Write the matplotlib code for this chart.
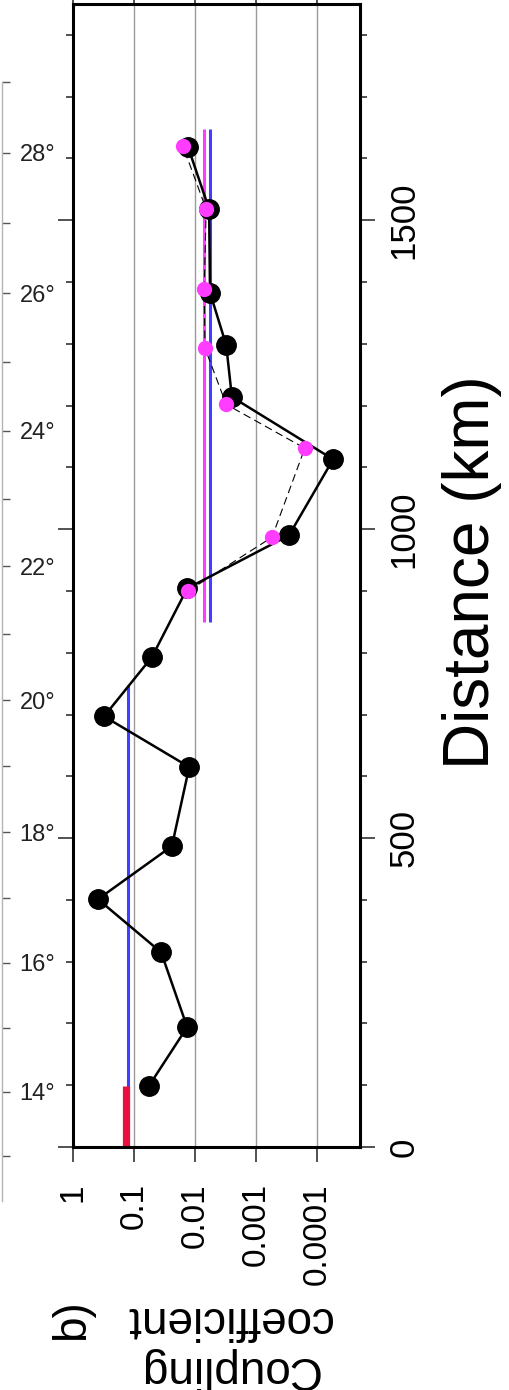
import numpy as np
import matplotlib as mpl
mpl.use('Agg')
import matplotlib.pyplot as plt
from matplotlib.ticker import FixedLocator, MultipleLocator, NullLocator, NullFormatter

plt.rcParams['font.family'] = ['Liberation Sans', 'DejaVu Sans']

# coupling coefficient along the profile (black = model 1, magenta = model 2)
dist_black = [99, 194, 315, 401, 487, 615, 697, 793, 904, 990, 1113, 1214, 1298, 1383, 1518, 1618]
coup_black = [0.057, 0.0135, 0.036, 0.39, 0.024, 0.0125, 0.31, 0.051, 0.0135,
              2.9e-4, 5.5e-5, 0.0025, 0.0031, 0.0057, 0.0059, 0.013]
dist_mag = [900, 987, 1131, 1202, 1293, 1388, 1518, 1620]
coup_mag = [0.013, 5.5e-4, 1.6e-4, 0.0031, 0.0069, 0.0071, 0.0066, 0.0158]

# segment averages: value, start km, end km
red_avg = (0.138, 0, 98)
blue_avg_south = (0.126, 52, 748)
mag_avg_north = (0.0071, 849, 1648)
blue_avg_north = (0.0057, 849, 1648)

coup_ticks = [1, 0.1, 0.01, 0.001, 0.0001]
coup_labels = ['1', '0.1', '0.01', '0.001', '0.0001']
dist_ticks = [0, 500, 1000, 1500]
lat_major = [14, 16, 18, 20, 22, 24, 26, 28]
lat_minor = [13, 15, 17, 19, 21, 23, 25, 27, 29]

W, H = 509, 1390
fig = plt.figure(figsize=(W / 100, H / 100), dpi=100)

# ---- main panel
ax = fig.add_axes([73 / W, (H - 1147) / H, (360 - 73) / W, (1147 - 4) / H])
ax.set_xscale('log')
ax.set_xlim(1, 10 ** -4.7)
ax.set_ylim(0, 1850)
ax.set_axisbelow(True)
ax.xaxis.set_major_locator(FixedLocator(coup_ticks))
ax.xaxis.set_minor_locator(NullLocator())
ax.set_xticks(coup_ticks, coup_labels, rotation=90, fontsize=24)
ax.xaxis.set_minor_formatter(NullFormatter())
ax.grid(axis='x', which='major', color='#9a9a9a', lw=1.0)

ax.set_yticks(dist_ticks, [str(d) for d in dist_ticks], rotation=90, va='center', fontsize=25)
ax.yaxis.set_minor_locator(MultipleLocator(100))
ax.tick_params(axis='y', which='both', left=True, right=True, labelleft=False,
               labelright=True, direction='out', width=1.1, color='#222222')
ax.tick_params(axis='y', which='major', length=11, pad=9)
ax.tick_params(axis='y', which='minor', length=5)
ax.tick_params(axis='x', which='major', top=True, bottom=True, direction='out',
               length=11, width=1.1, pad=15, color='#222222')
for s in ax.spines.values():
    s.set_linewidth(2.2)

# average lines
for val, d0, d1, col, lw in [(blue_avg_south[0], blue_avg_south[1], blue_avg_south[2], '#3f3fff', 2.2),
                              (red_avg[0], red_avg[1], red_avg[2], '#ea1140', 5.2),
                              (mag_avg_north[0], mag_avg_north[1], mag_avg_north[2], '#ff3cff', 2.2),
                              (blue_avg_north[0], blue_avg_north[1], blue_avg_north[2], '#3f3fff', 2.2)]:
    ax.plot([val, val], [d0, d1], color=col, lw=lw, solid_capstyle='butt', zorder=2)

ax.plot(coup_black, dist_black, color='black', lw=1.8, marker='o', ms=14,
        mfc='black', mec='black', zorder=3)
ax.plot(coup_mag, dist_mag, color='black', lw=0.8, ls=(0, (7, 4)), zorder=4)
ax.plot(coup_mag, dist_mag, ls='none', marker='o', ms=11, mfc='#ff3cff',
        mec='none', zorder=5)

# ---- edge of the neighbouring map panel (Mercator latitudes)
def merc(lat):
    lat = np.asarray(lat, dtype=float)
    return np.log(np.tan(np.pi / 4 + np.radians(lat) / 2))


def merc_inv(m):
    m = np.asarray(m, dtype=float)
    return np.degrees(2 * np.arctan(np.exp(m))) - 90


px_per_unit = (1092 - 153) / (merc(28) - merc(14))
lat_top = merc_inv(merc(28) + (153 - 4) / px_per_unit)
lat_bot = merc_inv(merc(14) - (H - 1092) / px_per_unit)

axl = fig.add_axes([-0.3, 0, 0.3 + 1.5 / W, (H - 4) / H])
axl.set_yscale('function', functions=(merc, merc_inv))
axl.set_ylim(lat_bot, lat_top)
axl.patch.set_visible(False)
for k in ['left', 'top', 'bottom']:
    axl.spines[k].set_visible(False)
axl.spines['right'].set_color('#b5b5b5')
axl.spines['right'].set_linewidth(1.0)
axl.spines['right'].set_bounds(12.3, 29)
axl.set_xticks([])
axl.yaxis.tick_right()
axl.yaxis.set_major_locator(FixedLocator(lat_major))
axl.yaxis.set_minor_locator(FixedLocator(lat_minor))
axl.set_yticks(lat_major, ['%d\u00b0' % v for v in lat_major], fontsize=17)
axl.yaxis.set_minor_formatter(NullFormatter())
axl.tick_params(axis='y', which='both', direction='out', length=6, width=1.0,
                color='#555555', pad=7, labelcolor='#222222')

# ---- labels
fig.text(472 / W, 1 - 572 / H, 'Distance (km)', rotation=90, fontsize=46,
         ha='center', va='center')
fig.text(228 / W, 1 - 1344 / H, 'Coupling\ncoefficient', rotation=180, fontsize=33,
         ha='center', va='center', multialignment='center')
fig.text(72 / W, 1 - 1320 / H, 'b)', rotation=90, fontsize=33,
         ha='center', va='center')

fig.savefig('out.png', dpi=100)
